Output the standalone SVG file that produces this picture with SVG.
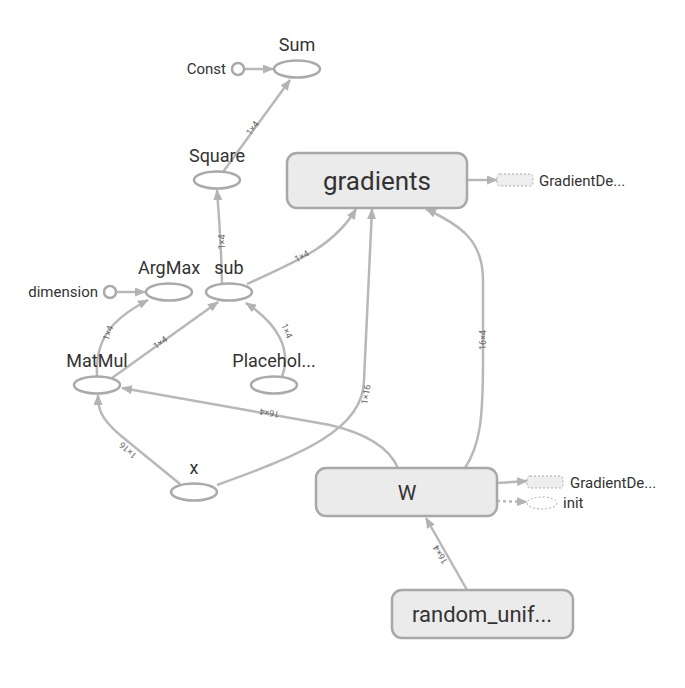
<svg xmlns="http://www.w3.org/2000/svg" width="685" height="688" viewBox="0 0 685 688">
<style>
text{font-family:Roboto,"Liberation Sans",sans-serif;fill:#333}
.lbl{font-size:18px;text-anchor:middle}
.sm{font-size:15px}
.big{text-anchor:middle}
.op{fill:#fff;stroke:#aaa;stroke-width:2.5}
.meta{fill:#ebebeb;stroke:#a8a8a8;stroke-width:2.5}
.dash{fill:#eee;stroke:#aaa;stroke-width:1;stroke-dasharray:2,2}
.e{fill:none;stroke:#b8b8b8;stroke-width:2.5}
.el{font-size:9px;fill:#666;text-anchor:middle}
</style>
<defs>
<marker id="ah" markerUnits="userSpaceOnUse" markerWidth="11" markerHeight="9" refX="10" refY="4.5" orient="auto" viewBox="0 0 11 9">
<path d="M0,0 L11,4.5 L0,9 z" fill="#b3b3b3"/>
</marker>
</defs>
<rect width="685" height="688" fill="#fff"/>
<g id="edges">
<path class="e" d="M244,69 L273,69" marker-end="url(#ah)" stroke-width="2"/>
<path class="e" d="M116,292 L145,292" marker-end="url(#ah)" stroke-width="2"/>
<path class="e" d="M223,172 L290,80" marker-end="url(#ah)"/>
<path class="e" d="M222,284 Q221,240 217,190" marker-end="url(#ah)"/>
<path class="e" d="M247,284 C300,260 335,245 356,209" marker-end="url(#ah)"/>
<path class="e" d="M97,377 C95,340 110,320 148,300" marker-end="url(#ah)"/>
<path class="e" d="M112,378 L218,302" marker-end="url(#ah)"/>
<path class="e" d="M282,377 C292,350 278,324 246,303" marker-end="url(#ah)"/>
<path class="e" d="M180,484 L120,435 C100,418 98,408 98,395" marker-end="url(#ah)"/>
<path class="e" d="M217,485 C300,455 364,430 364,380 L372,209" marker-end="url(#ah)"/>
<path class="e" d="M398,468 C388,445 360,432 330,425 L122,388" marker-end="url(#ah)"/>
<path class="e" d="M465,468 C480,445 483,420 483,360 L483,280 C483,240 460,225 426,209" marker-end="url(#ah)"/>
<path class="e" d="M468,180 L497,180" marker-end="url(#ah)" stroke-width="2"/>
<path class="e" d="M497,483 L527,481" marker-end="url(#ah)" stroke-width="2"/>
<path class="e" d="M497,501 L527,502" marker-end="url(#ah)" stroke-width="2" stroke-dasharray="3,3"/>
<path class="e" d="M467,590 L426,518" marker-end="url(#ah)"/>
<text class="el" transform="translate(255,130) rotate(-54)">1×4</text>
<text class="el" transform="translate(225,242) rotate(-90)">1×4</text>
<text class="el" transform="translate(303,259) rotate(-28)">1×4</text>
<text class="el" transform="translate(111,334) rotate(-70)">1×4</text>
<text class="el" transform="translate(162,345) rotate(-36)">1×4</text>
<text class="el" transform="translate(284,332) rotate(68)">1×4</text>
<text class="el" transform="translate(130,448) rotate(-138)">1×16</text>
<text class="el" transform="translate(369,395) rotate(-80)">1×16</text>
<text class="el" transform="translate(270,410) rotate(-170)">16×4</text>
<text class="el" transform="translate(486,340) rotate(-90)">16×4</text>
<text class="el" transform="translate(443,553) rotate(-120)">16×4</text>
</g>
<g id="Sum"><ellipse class="op" cx="297" cy="69" rx="23" ry="8.5"/><text class="lbl" x="297" y="51">Sum</text></g>
<g id="Const"><circle class="op" cx="238" cy="69" r="6" stroke-width="2"/><text class="sm" x="226" y="74" text-anchor="end">Const</text></g>
<g id="Square"><ellipse class="op" cx="217" cy="180" rx="23" ry="8.5"/><text class="lbl" x="217" y="162">Square</text></g>
<g id="ArgMax"><ellipse class="op" cx="169" cy="292" rx="23" ry="8.5"/><text class="lbl" x="169" y="274">ArgMax</text></g>
<g id="dimension"><circle class="op" cx="110" cy="292" r="6" stroke-width="2"/><text class="sm" x="98" y="297" text-anchor="end">dimension</text></g>
<g id="sub"><ellipse class="op" cx="229" cy="292" rx="23" ry="8.5"/><text class="lbl" x="229" y="274">sub</text></g>
<g id="MatMul"><ellipse class="op" cx="97" cy="385" rx="23" ry="8.5"/><text class="lbl" x="97" y="367">MatMul</text></g>
<g id="Placeholder"><ellipse class="op" cx="274" cy="385" rx="23" ry="8.5"/><text class="lbl" x="274" y="367">Placehol...</text></g>
<g id="x"><ellipse class="op" cx="194" cy="492" rx="23" ry="8.5"/><text class="lbl" x="194" y="474">x</text></g>
<g id="gradients"><rect class="meta" x="287" y="153" width="180" height="55" rx="10"/><text class="big" x="377" y="190" font-size="26">gradients</text></g>
<g id="GradientDescent1"><rect class="dash" x="497" y="174" width="36" height="12" rx="3"/><text class="sm" x="539" y="186">GradientDe...</text></g>
<g id="W"><rect class="meta" x="316" y="468" width="181" height="48" rx="10"/><text class="big" x="407" y="500" font-size="21">W</text></g>
<g id="GradientDescent2"><rect class="dash" x="527" y="476" width="36" height="12" rx="3"/><text class="sm" x="570" y="488">GradientDe...</text></g>
<g id="init"><ellipse class="dash" cx="542" cy="503" rx="15" ry="6" style="fill:#fff"/><text class="sm" x="563" y="508">init</text></g>
<g id="random_uniform"><rect class="meta" x="392" y="590" width="181" height="48" rx="10"/><text class="big" x="482" y="622" font-size="22">random_unif...</text></g>
</svg>
